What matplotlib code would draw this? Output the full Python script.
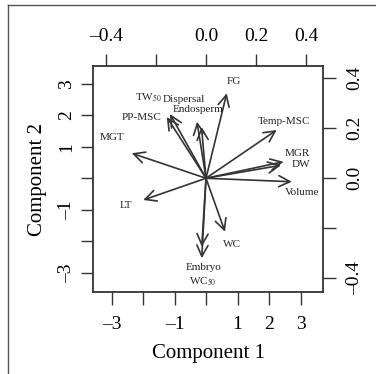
import numpy as np
import matplotlib
matplotlib.use("Agg")
import matplotlib.pyplot as plt
from matplotlib.lines import Line2D

plt.rcParams["font.family"] = ["Liberation Serif", "DejaVu Serif"]
plt.rcParams["mathtext.fontset"] = "stix"

# variable loadings (arrow ends, top/right scale)
variables = ["FG", "Temp-MSC", "MGR", "DW", "Volume", "WC", "Embryo",
             r"WC$_{50}$", "LT", "MGT", "PP-MSC", r"TW$_{50}$",
             "Dispersal", "Endosperm"]
load_x = [0.083, 0.283, 0.310, 0.300, 0.343, 0.076, -0.017,
          -0.017, -0.251, -0.297, -0.157, -0.144, -0.036, -0.018]
load_y = [0.340, 0.193, 0.066, 0.052, -0.014, -0.214, -0.274,
          -0.320, -0.087, 0.100, 0.245, 0.257, 0.226, 0.205]

# label offsets from arrow tips (pixels)
label_off = {
    "FG": (7, 12), "Temp-MSC": (7, 9), "MGR": (14, 8), "DW": (20, 1),
    "Volume": (10, -11), "WC": (7, -13), "Embryo": (2, -21),
    r"WC$_{50}$": (1, -23), "LT": (-17, -5), "MGT": (-20, 16),
    "PP-MSC": (-25, 0), r"TW$_{50}$": (-22, 16),
    "Dispersal": (-13, 22), "Endosperm": (-3, 17),
}

bottom_ticks = [-3, -2, -1, 0, 1, 2, 3]
bottom_labels = ["\u20133", "", "\u20131", "", "1", "2", "3"]
left_ticks = [-3, -2, -1, 0, 1, 2, 3]
left_labels = ["\u20133", "", "\u20131", "", "1", "2", "3"]
top_ticks = [-0.4, -0.2, 0.0, 0.2, 0.4]
top_labels = ["\u20130.4", "", "0.0", "0.2", "0.4"]
right_ticks = [-0.4, -0.2, 0.0, 0.2, 0.4]
right_labels = ["\u20130.4", "", "0.0", "0.2", "0.4"]

fig = plt.figure(figsize=(3.76, 3.74), dpi=100)
rect = [93 / 376, 1 - 292 / 374, 230 / 376, 226 / 374]
ax = fig.add_axes(rect)
ax.set_xlim(-3.59, 3.71)
ax.set_ylim(-3.61, 3.56)
ax.set_xticks(bottom_ticks)
ax.set_xticklabels(bottom_labels)
ax.set_yticks(left_ticks)
ax.set_yticklabels(left_labels, rotation=90, va="center")
ax.tick_params(direction="out", length=9, width=1, labelsize=14,
               color="#333333")
ax.tick_params(axis="x", pad=8)
ax.tick_params(axis="y", pad=4)
ax.set_xlabel("Component 1", fontsize=15, labelpad=8)
ax.set_ylabel("Component 2", fontsize=15, labelpad=8)
for s in ax.spines.values():
    s.set_linewidth(1.3)
    s.set_color("#333333")

ax2 = fig.add_axes(rect, facecolor="none")
ax2.set_xlim(-0.452, 0.468)
ax2.set_ylim(-0.455, 0.449)
ax2.xaxis.tick_top()
ax2.yaxis.tick_right()
ax2.set_xticks(top_ticks)
ax2.set_xticklabels(top_labels)
ax2.set_yticks(right_ticks)
ax2.set_yticklabels(right_labels, rotation=90, va="center")
ax2.tick_params(direction="out", length=9, width=1, labelsize=14,
                color="#333333")
ax2.tick_params(axis="x", pad=6)
ax2.tick_params(axis="y", pad=7.5)
for s in ax2.spines.values():
    s.set_visible(False)

for name, x, y in zip(variables, load_x, load_y):
    ax2.annotate("", xy=(x, y), xytext=(0, 0),
                 arrowprops=dict(arrowstyle="->,head_length=0.8,head_width=0.4",
                                 color="#333333", lw=1.2, shrinkA=0, shrinkB=0))
    dx, dy = label_off[name]
    ax2.annotate(name, xy=(x, y), xytext=(dx, dy), textcoords="offset pixels",
                 ha="center", va="center", fontsize=8, color="#222222")

# page frame lines
fig.add_artist(Line2D([8 / 376, 8 / 376], [0, 1 - 5 / 374], transform=fig.transFigure,
                      color="#555555", lw=1))
fig.add_artist(Line2D([8 / 376, 1], [1 - 5 / 374, 1 - 5 / 374], transform=fig.transFigure,
                      color="#555555", lw=1))

fig.savefig("out.png", dpi=100)
